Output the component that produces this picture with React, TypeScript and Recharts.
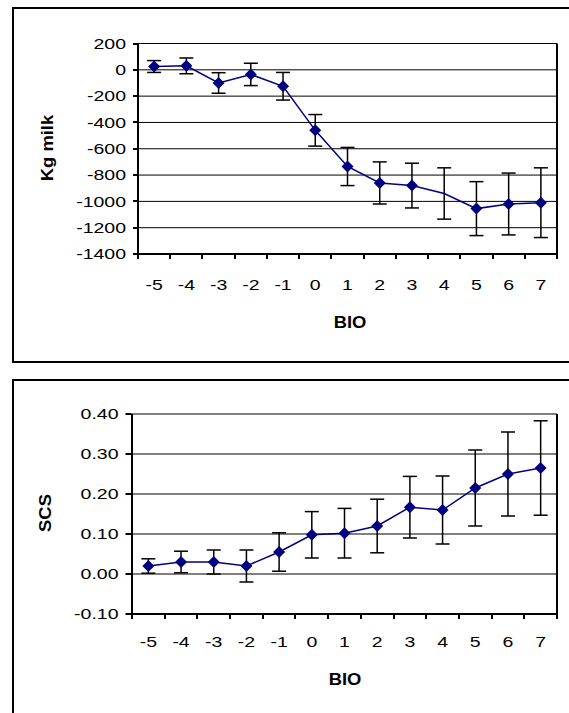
import { CartesianGrid, ErrorBar, Label, Line, LineChart, ReferenceLine, XAxis, YAxis } from "recharts";

const bio = [-5, -4, -3, -2, -1, 0, 1, 2, 3, 4, 5, 6, 7];

const milkMean = [25, 30, -100, -35, -125, -460, -735, -860, -880, -940, -1055, -1020, -1010];
const milkErr = [45, 60, 78, 85, 105, 120, 145, 160, 170, 195, 205, 235, 265];
const milkNoMarker = [4]; // no diamond drawn at BIO 4 in the original
const milkTicks = [-1400, -1200, -1000, -800, -600, -400, -200, 0, 200];

const scsMean = [0.02, 0.03, 0.03, 0.02, 0.055, 0.098, 0.102, 0.12, 0.167, 0.16, 0.215, 0.25, 0.265];
const scsErr = [0.018, 0.027, 0.03, 0.04, 0.048, 0.058, 0.062, 0.067, 0.077, 0.085, 0.095, 0.105, 0.118];
const scsTicks = [-0.1, 0, 0.1, 0.2, 0.3, 0.4];

// tick marks sit between categories (excel style), labels on the categories
const boundaries = [...bio.map((b) => b - 0.5), bio[bio.length - 1] + 0.5];
const xTicks = [...bio, ...boundaries].sort((a, b) => a - b);
const xDomain = [boundaries[0], boundaries[boundaries.length - 1]];

const milkData = bio.map((b, i) => ({ bio: b, value: milkMean[i], err: milkErr[i], marker: !milkNoMarker.includes(b) }));
const scsData = bio.map((b, i) => ({ bio: b, value: scsMean[i], err: scsErr[i], marker: true }));

const FONT = "'Liberation Sans', Arial, sans-serif";
const NAVY = "#000080";
const STRETCH = 1.3;

function TickText({ x, y, text, anchor, dy }: any) {
  return (
    <text
      transform={`translate(${x},${y}) scale(${STRETCH},1)`}
      textAnchor={anchor}
      dy={dy}
      fontFamily={FONT}
      fontSize={15}
      fill="#000"
    >
      {text}
    </text>
  );
}

function XTick({ x, y, payload, labelDy }: any) {
  const v = payload.value;
  if (!Number.isInteger(v)) {
    const px = Math.round(x);
    return <line x1={px} x2={px} y1={y} y2={y + 5} stroke="#000" strokeWidth={2} />;
  }
  return <TickText x={x} y={y} text={String(v)} anchor="middle" dy={labelDy} />;
}

function YTick({ x, y, payload, fmt }: any) {
  const py = Math.round(y);
  return (
    <g>
      <line x1={x + 7} x2={x + 13} y1={py} y2={py} stroke="#000" strokeWidth={2} />
      <TickText x={x} y={y} text={fmt(payload.value)} anchor="end" dy={5.3} />
    </g>
  );
}

function Title({ x, y, text, rotate }: any) {
  return (
    <text
      transform={`translate(${x},${y})${rotate ? " rotate(-90)" : ""} scale(1.15,1)`}
      textAnchor="middle"
      dy={6}
      fontFamily={FONT}
      fontSize={16}
      fontWeight="bold"
      fill="#000"
    >
      {text}
    </text>
  );
}

function Diamond(props: any) {
  const { cx, cy, payload, index } = props;
  if (!payload.marker || cx == null) return <g key={`d${index}`} />;
  const r = 6;
  return (
    <polygon
      key={`d${index}`}
      points={`${cx},${cy - r} ${cx + r},${cy} ${cx},${cy + r} ${cx - r},${cy}`}
      fill={NAVY}
    />
  );
}

function Panel({ data, ticks, fmt, top, height, marginTop, marginLeft, labelDy, yTitle, yTitlePos, xTitlePos, axisHeight, yGap }: any) {
  return (
    <div style={{ position: "absolute", left: 0, top, width: 569, height }}>
      <LineChart
        width={569}
        height={height}
        data={data}
        margin={{ top: marginTop, right: 12, left: marginLeft, bottom: 0 }}
      >
        <CartesianGrid stroke="#000" strokeWidth={1} vertical={false} />
        <XAxis
          dataKey="bio"
          type="number"
          domain={xDomain}
          ticks={xTicks}
          height={axisHeight}
          axisLine={{ stroke: "#000", strokeWidth: 2 }}
          tickLine={false}
          tickSize={0}
          tickMargin={0}
          interval={0}
          tick={(p: any) => <XTick x={p.x} y={p.y} payload={p.payload} labelDy={labelDy} />}
        >
          <Label content={() => <Title x={xTitlePos[0]} y={xTitlePos[1]} text="BIO" />} />
        </XAxis>
        <YAxis
          domain={[ticks[0], ticks[ticks.length - 1]]}
          ticks={ticks}
          interval={0}
          width={78}
          axisLine={{ stroke: "#000", strokeWidth: 2 }}
          tickLine={false}
          tickSize={0}
          tickMargin={yGap}
          tick={(p: any) => <YTick x={p.x} y={p.y} payload={p.payload} fmt={fmt} />}
        >
          <Label content={() => <Title x={yTitlePos[0]} y={yTitlePos[1]} text={yTitle} rotate />} />
        </YAxis>
        {/* plot frame: left/bottom axes and right edge */}
        <ReferenceLine x={xDomain[0]} stroke="#000" strokeWidth={2} ifOverflow="visible" />
        <ReferenceLine x={xDomain[1]} stroke="#000" strokeWidth={2} ifOverflow="visible" />
        <ReferenceLine y={ticks[0]} stroke="#000" strokeWidth={2} ifOverflow="visible" />
        <Line
          dataKey="value"
          stroke={NAVY}
          strokeWidth={1.5}
          dot={Diamond}
          activeDot={false}
          isAnimationActive={false}
        >
          <ErrorBar dataKey="err" direction="y" width={7} stroke="#000" strokeWidth={1.5} />
        </Line>
      </LineChart>
    </div>
  );
}

export default function App() {
  return (
    <div style={{ position: "absolute", left: 0, top: 0, width: 569, height: 713, overflow: "hidden", background: "#fff" }}>
      <div style={{ position: "absolute", left: 12, top: 7, width: 600, height: 356, border: "2px solid #000", boxSizing: "border-box" }} />
      <div style={{ position: "absolute", left: 12, top: 379, width: 600, height: 400, border: "2px solid #000", boxSizing: "border-box" }} />
      <Panel
        data={milkData}
        ticks={milkTicks}
        fmt={(v: number) => String(v)}
        top={0}
        height={363}
        marginTop={43.5}
        marginLeft={60}
        axisHeight={109}
        labelDy={35.6}
        yGap={12}
        yTitle="Kg milk"
        yTitlePos={[47, 148]}
        xTitlePos={[350, 322]}
      />
      <Panel
        data={scsData}
        ticks={scsTicks}
        fmt={(v: number) => v.toFixed(2)}
        top={370}
        height={343}
        marginTop={44}
        marginLeft={54}
        axisHeight={99}
        labelDy={33.5}
        yGap={13.5}
        yTitle="SCS"
        yTitlePos={[45, 143]}
        xTitlePos={[345, 309]}
      />
    </div>
  );
}
